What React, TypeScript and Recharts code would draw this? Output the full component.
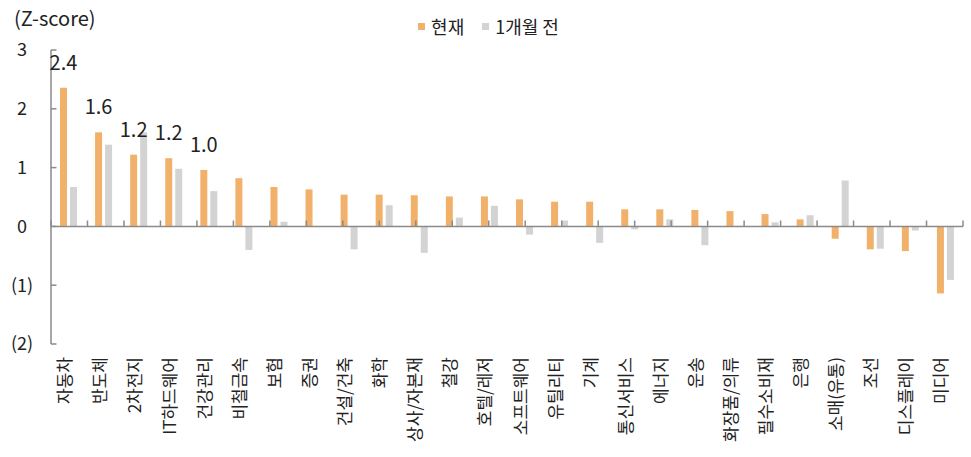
import React from "react";
import {
  BarChart,
  Bar,
  XAxis,
  YAxis,
  ReferenceLine,
  Legend,
  LabelList,
  Label,
} from "recharts";

const categories = [
  "자동차", "반도체", "2차전지", "IT하드웨어", "건강관리", "비철금속", "보험", "증권",
  "건설/건축", "화학", "상사/자본재", "철강", "호텔/레저", "소프트웨어", "유틸리티", "기계",
  "통신서비스", "에너지", "운송", "화장품/의류", "필수소비재", "은행", "소매(유통)", "조선",
  "디스플레이", "미디어",
];

const current = [
  2.36, 1.6, 1.22, 1.16, 0.96, 0.82, 0.67, 0.63, 0.54, 0.54, 0.53, 0.51, 0.51, 0.46, 0.42, 0.42,
  0.29, 0.29, 0.28, 0.26, 0.21, 0.12, -0.21, -0.39, -0.42, -1.14,
];

const monthAgo = [
  0.67, 1.39, 1.6, 0.98, 0.6, -0.4, 0.08, 0, -0.39, 0.36, -0.45, 0.15, 0.35, -0.14, 0.1, -0.28,
  -0.05, 0.12, -0.32, 0.01, 0.07, 0.19, 0.78, -0.38, -0.07, -0.91,
];

const yTicks = [-2, -1, 0, 1, 2, 3];
const labeledCount = 5;

const ORANGE = "#F2B16A";
const GREY = "#D3D3D3";
const AXIS = "#8a8a8a";
const FONT = "'Noto Sans CJK KR', 'Noto Sans', sans-serif";

const data = categories.map((name, i) => ({
  name,
  current: current[i],
  monthAgo: monthAgo[i],
}));

const boundaryTicks = categories.map((_, i) => i).concat(categories.length);

const fmtY = (v: number) => (v < 0 ? `(${Math.abs(v)})` : `${v}`);

const YTick = (props: any) => {
  const { x, y, payload } = props;
  return (
    <text x={x - 29} y={y} dy="0.35em" textAnchor="middle" fontSize={18} fill="#222" fontFamily={FONT}>
      {fmtY(payload.value)}
    </text>
  );
};

const XTick = (props: any) => {
  const { x, y, payload } = props;
  return (
    <g transform={`translate(${x},${y + 13})`}>
      <text x={0} y={0} dy={2} transform="rotate(-90)" textAnchor="end" fontSize={17} fill="#222" fontFamily={FONT}>
        {payload.value}
      </text>
    </g>
  );
};

const renderValueLabel = (props: any) => {
  const { x, y, width, value, index } = props;
  if (index >= labeledCount) return null;
  return (
    <text x={x + width / 2} y={y - 25} dy="0.35em" textAnchor="middle" fontSize={20} fill="#222" fontFamily={FONT}>
      {Number(value).toFixed(1)}
    </text>
  );
};

const renderLegend = () => (
  <div style={{ display: "flex", justifyContent: "center", alignItems: "center", gap: 18, fontFamily: FONT, fontSize: 18, color: "#222", paddingLeft: 6 }}>
    <span style={{ display: "flex", alignItems: "center", gap: 6 }}>
      <span style={{ width: 7, height: 7, background: ORANGE, display: "inline-block" }}></span>현재
    </span>
    <span style={{ display: "flex", alignItems: "center", gap: 6 }}>
      <span style={{ width: 7, height: 7, background: GREY, display: "inline-block" }}></span>1개월 전
    </span>
  </div>
);

export default function App() {
  return (
    <div style={{ position: "absolute", left: 0, top: 0, width: 971, height: 457, background: "#fff" }}>
      <BarChart
        width={971}
        height={457}
        data={data}
        margin={{ top: 50, right: 8, bottom: 8, left: 0 }}
        barSize={7}
        barGap={3}
      >
        <XAxis
          dataKey="name"
          interval={0}
          axisLine={false}
          tickLine={false}
          tickSize={0}
          tickMargin={0}
          height={105}
          tick={<XTick />}
        />
        <XAxis xAxisId="n" type="number" domain={[0, categories.length]} allowDataOverflow hide />
        <YAxis
          domain={[-2, 3]}
          ticks={yTicks}
          interval={0}
          width={51}
          axisLine={{ stroke: AXIS, strokeWidth: 1.5 }}
          tickLine={false}
          tickSize={0}
          tickMargin={0}
          tick={<YTick />}
        >
          <Label
            content={() => (
              <text x={14} y={19} dy="0.35em" fontSize={20} fill="#222" fontFamily={FONT}>
                (Z-score)
              </text>
            )}
          />
        </YAxis>
        <Legend verticalAlign="middle" align="center" layout="horizontal" wrapperStyle={{ top: 13, left: 0, width: 971 }} content={renderLegend} />
        <ReferenceLine y={0} stroke={AXIS} strokeWidth={1.5} />
        {boundaryTicks.map((i) => (
          <ReferenceLine
            key={`xt${i}`}
            xAxisId="n"
            segment={[{ x: i, y: 0 }, { x: i, y: 0.1 }]}
            stroke={AXIS}
            strokeWidth={1.5}
          />
        ))}
        {yTicks.map((v) => (
          <ReferenceLine
            key={`yt${v}`}
            xAxisId="n"
            segment={[{ x: 0, y: v }, { x: 0.15, y: v }]}
            stroke={AXIS}
            strokeWidth={1.5}
          />
        ))}
        <Bar dataKey="current" name="현재" fill={ORANGE} isAnimationActive={false}>
          <LabelList dataKey="current" content={renderValueLabel} />
        </Bar>
        <Bar dataKey="monthAgo" name="1개월 전" fill={GREY} isAnimationActive={false} />
      </BarChart>
    </div>
  );
}
